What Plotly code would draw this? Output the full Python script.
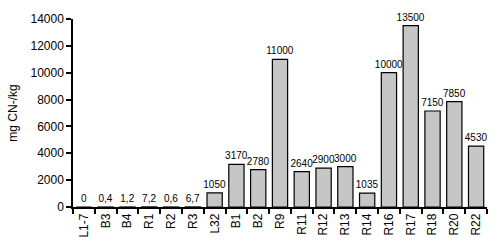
import plotly.graph_objects as go

categories = ["L1-7", "B3", "B4", "R1", "R2", "R3", "L32", "B1", "B2", "R9",
              "R11", "R12", "R13", "R14", "R16", "R17", "R18", "R20", "R22"]
values = [0, 0.4, 1.2, 7.2, 0.6, 6.7, 1050, 3170, 2780, 11000,
          2640, 2900, 3000, 1035, 10000, 13500, 7150, 7850, 4530]
labels = ["0", "0,4", "1,2", "7,2", "0,6", "6,7", "1050", "3170", "2780", "11000",
          "2640", "2900", "3000", "1035", "10000", "13500", "7150", "7850", "4530"]
y_ticks = [0, 2000, 4000, 6000, 8000, 10000, 12000, 14000]

fig = go.Figure(go.Bar(
    x=categories, y=values, text=labels, textposition="outside",
    textfont=dict(size=10, color="black", family="Liberation Sans"),
    marker=dict(color="#c6c6c6", line=dict(color="black", width=1.2)),
    cliponaxis=False,
))
fig.update_layout(
    width=500, height=250,
    margin=dict(l=70, r=13, t=13, b=39),
    plot_bgcolor="white", paper_bgcolor="white",
    bargap=0.3, showlegend=False,
    font=dict(family="Liberation Sans", size=12, color="black"),
    uniformtext=dict(minsize=9, mode="show"),
)
fig.update_xaxes(
    showline=True, linecolor="black", linewidth=1.5,
    ticks="outside", tickson="boundaries", ticklen=5, tickcolor="black", tickwidth=1.5,
    tickangle=-90, tickfont=dict(size=12), showgrid=False,
)
fig.update_yaxes(
    range=[0, 14000], tickvals=y_ticks, tickformat="d",
    showline=True, linecolor="black", linewidth=1.5,
    ticks="outside", ticklen=5, tickcolor="black", tickwidth=1.5, showgrid=False,
    zeroline=False, title=dict(text="mg CN-/kg", font=dict(size=12), standoff=10),
    tickfont=dict(size=12),
)
fig.write_html("out.html")
